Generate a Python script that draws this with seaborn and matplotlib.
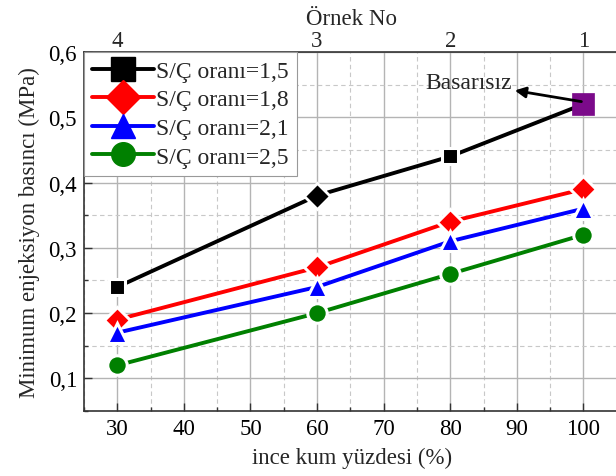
import matplotlib
matplotlib.use("Agg")
import matplotlib.pyplot as plt
import seaborn as sns
import pandas as pd
from matplotlib.lines import Line2D
from matplotlib.ticker import MultipleLocator, FuncFormatter

# ---- data ----
ince_kum = [30, 60, 80, 100]
ornek_no = ["4", "3", "2", "1"]
sc_15 = [0.24, 0.38, 0.44, 0.52]
sc_18 = [0.19, 0.27, 0.34, 0.39]
sc_21 = [0.17, 0.24, 0.31, 0.36]
sc_25 = [0.12, 0.20, 0.26, 0.32]
series_names = ["S/Ç oranı=1,5", "S/Ç oranı=1,8", "S/Ç oranı=2,1", "S/Ç oranı=2,5"]
colors = ["black", "red", "blue", "green"]
markers = ["s", "D", "^", "o"]

rows = []
for name, vals in zip(series_names, [sc_15, sc_18, sc_21, sc_25]):
    for x, y in zip(ince_kum, vals):
        rows.append({"x": x, "y": y, "seri": name})
df = pd.DataFrame(rows)

sns.set_style("white")
plt.rcParams["font.family"] = ["Liberation Serif", "DejaVu Serif"]

fig = plt.figure(figsize=(6.16, 4.77), dpi=100)
W, H = 616, 477
ax = fig.add_axes([84 / W, (H - 412) / H, (620 - 84) / W, (412 - 53) / H])

msizes = [12, 13, 14, 14]
for name, col, mk, ms in zip(series_names, colors, markers, msizes):
    sub = df[df["seri"] == name]
    sns.lineplot(data=sub, x="x", y="y", ax=ax, color=col, lw=2.8,
                 marker=mk, markersize=ms, markeredgecolor="white",
                 markeredgewidth=2.2, markerfacecolor=col, legend=False,
                 zorder=3)

# special markers on the S/C=1,5 series
ax.plot(ince_kum[1], sc_15[1], marker="D", ms=13, color="black",
        mec="white", mew=2.0, zorder=4, ls="none")
ax.plot(ince_kum[3], sc_15[3], marker="s", ms=16, color="#7b0a8a",
        mec="#7b0a8a", mew=0.5, zorder=5, ls="none")

ax.annotate("Basarısız", xy=(ince_kum[3] - 0.3, sc_15[3] + 0.004),
            xytext=(89.2, 0.553), fontsize=17, ha="right", va="center",
            zorder=6,
            arrowprops=dict(arrowstyle="<|-", color="black", lw=2.0,
                            mutation_scale=16, shrinkA=0, shrinkB=0))

ax.set_xlim(25, 105.5)
ax.set_ylim(0.05, 0.6)
ax.xaxis.set_major_locator(MultipleLocator(10))
ax.xaxis.set_minor_locator(MultipleLocator(5))
ax.yaxis.set_major_locator(MultipleLocator(0.1))
ax.yaxis.set_minor_locator(MultipleLocator(0.05))
ax.set_xticks([30, 40, 50, 60, 70, 80, 90, 100])
ax.yaxis.set_major_formatter(FuncFormatter(lambda v, p: f"{v:.1f}".replace(".", ",")))
ax.grid(True, which="major", color="#b4b4b4", lw=1.0, ls="-", zorder=0)
ax.grid(True, which="minor", color="#c8c8c8", lw=0.8, ls=(0, (4, 3)), zorder=0)
ax.set_axisbelow(True)
ax.tick_params(which="both", direction="in", bottom=True, left=True,
               labelsize=16.5, colors="#333333", labelcolor="black")
ax.tick_params(which="major", length=6, width=1, pad=5)
ax.tick_params(which="minor", length=3, width=1)
for s in ax.spines.values():
    s.set_color("#333333")
    s.set_linewidth(1.2)
ax.set_xlabel("ince kum yüzdesi (%)", fontsize=16.5, labelpad=6)
ax.set_ylabel("Minimum enjeksiyon basıncı (MPa)", fontsize=16.5, labelpad=6)

# top axis
ax2 = ax.twiny()
ax2.set_xlim(ax.get_xlim())
ax2.set_xticks(ince_kum)
ax2.set_xticklabels(ornek_no)
ax2.tick_params(axis="x", direction="in", length=0, labelsize=16.5, pad=1)
ax2.set_xlabel("Örnek No", fontsize=16.5, labelpad=4)
ax2.grid(False)
for s in ax2.spines.values():
    s.set_visible(False)

handles = [Line2D([0], [0], color=c, lw=2.8, marker=m, ms=17, mec=c)
           for c, m in zip(colors, markers)]
leg = ax.legend(handles, series_names, loc="upper left", fontsize=17,
                frameon=True, fancybox=False, edgecolor="#999999",
                framealpha=1, handlelength=2.6, handletextpad=0.1,
                labelspacing=0.3, borderpad=0.35, borderaxespad=0.0)
leg.get_frame().set_linewidth(0.8)
leg.set_zorder(10)

fig.savefig("out.png", dpi=100)
